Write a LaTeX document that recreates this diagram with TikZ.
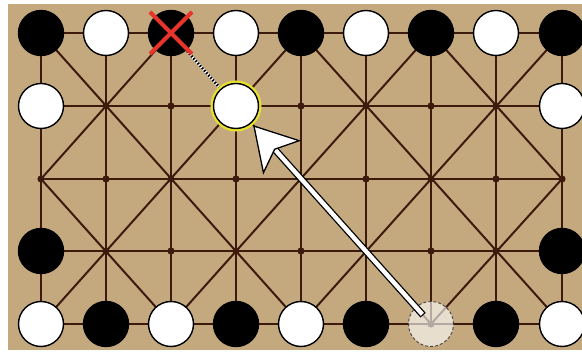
\documentclass[tikz,border=0pt]{standalone}
\usetikzlibrary{calc}
\definecolor{board}{HTML}{C4A97F}
\definecolor{lineb}{HTML}{3D1A0C}
\definecolor{xred}{HTML}{E8352B}
\definecolor{hlyellow}{HTML}{E6E22E}
\definecolor{ghostline}{HTML}{4A4040}
\begin{document}
\begin{tikzpicture}[x=1pt,y=-1pt,
  gridline/.style={draw=lineb,line width=2pt},
  stonebase/.style={circle,minimum size=45pt,inner sep=0pt,line width=1.4pt,draw=black},
  stoneblack/.style={stonebase,fill=black},
  stonewhite/.style={stonebase,fill=white},
  hlstone/.style={stonebase,fill=white,
     preaction={draw=hlyellow,line width=6pt}},
  ghoststone/.style={circle,minimum size=45pt,inner sep=0pt,fill=white,fill opacity=0.62,
     draw=ghostline,draw opacity=1,line width=0.9pt,dash pattern=on 3pt off 2pt},
  xmark/.style={draw=xred,line width=4pt},
]
\useasboundingbox (0,0) rectangle (582,352);
\fill[white] (0,0) rectangle (582,352);
\fill[board] (8,4) rectangle (582,350);
% grid points
\foreach \x [count=\i from 0] in {41,106,171,236,301,366,431,496,562}{
  \foreach \y [count=\j from 0] in {33,106,179,251,324}{
    \coordinate (p-\i-\j) at (\x,\y);
  }
}
% orthogonal lines
\foreach \j in {0,...,4}{\draw[gridline] (p-0-\j) -- (p-8-\j);}
\foreach \i in {0,...,8}{\draw[gridline] (p-\i-0) -- (p-\i-4);}
% diagonals
\foreach \a/\b in {0-0/4-4,2-0/6-4,4-0/8-4,0-2/2-4,6-0/8-2,
                   4-0/0-4,6-0/2-4,8-0/4-4,2-0/0-2,8-2/6-4}{
  \draw[gridline] (p-\a) -- (p-\b);
}
% dots
\foreach \i in {0,...,8}{
  \foreach \j in {0,...,4}{
    \fill[lineb] (p-\i-\j) circle[radius=3.6];
  }
}
% stones
\node[stoneblack] (s-0-0) at (p-0-0) {};
\node[stonewhite] (s-1-0) at (p-1-0) {};
\node[stoneblack] (s-2-0) at (p-2-0) {};
\node[stonewhite] (s-3-0) at (p-3-0) {};
\node[stoneblack] (s-4-0) at (p-4-0) {};
\node[stonewhite] (s-5-0) at (p-5-0) {};
\node[stoneblack] (s-6-0) at (p-6-0) {};
\node[stonewhite] (s-7-0) at (p-7-0) {};
\node[stoneblack] (s-8-0) at (p-8-0) {};
\node[stonewhite] (s-0-1) at (p-0-1) {};
\node[stonewhite] (s-8-1) at (p-8-1) {};
\node[stoneblack] (s-0-3) at (p-0-3) {};
\node[stoneblack] (s-8-3) at (p-8-3) {};
\node[stonewhite] (s-0-4) at (p-0-4) {};
\node[stoneblack] (s-1-4) at (p-1-4) {};
\node[stonewhite] (s-2-4) at (p-2-4) {};
\node[stoneblack] (s-3-4) at (p-3-4) {};
\node[stonewhite] (s-4-4) at (p-4-4) {};
\node[stoneblack] (s-5-4) at (p-5-4) {};
\node[ghoststone] (gh) at (p-6-4) {};
\node[stoneblack] (s-7-4) at (p-7-4) {};
\node[stonewhite] (s-8-4) at (p-8-4) {};
% dotted capture line
\draw[white,line width=2.6pt,shorten <=1pt] (s-2-0) -- (p-3-1);
\draw[black,line width=2.6pt,dash pattern=on 1.6pt off 1.6pt,shorten <=1pt] (s-2-0) -- (p-3-1);
% highlighted stone
\node[hlstone] (hl) at (p-3-1) {};
% red cross
\draw[xmark] ($(p-2-0)+(-21,-21)$) -- ($(p-2-0)+(21,21)$);
\draw[xmark] ($(p-2-0)+(21,-21)$) -- ($(p-2-0)+(-21,21)$);
% arrow
\coordinate (tip) at ($(p-3-1)!27pt!(p-6-4)$);
\coordinate (abase) at ($(tip)!41pt!(p-6-4)$);
\coordinate (ainset) at ($(tip)!31pt!(p-6-4)$);
\coordinate (barbL) at ($(abase)!24pt!90:(p-6-4)$);
\coordinate (barbR) at ($(abase)!24pt!-90:(p-6-4)$);
\coordinate (tail) at ($(p-6-4)!13pt!(p-3-1)$);
\coordinate (tailb) at ($(p-6-4)!11.8pt!(p-3-1)$);
\draw[black,line width=7pt] (tailb) -- (ainset);
\draw[white,line width=4.4pt] (tail) -- (ainset);
\draw[fill=white,draw=black,line width=1.3pt,line join=miter]
  (tip) -- (barbL) -- (ainset) -- (barbR) -- cycle;
\end{tikzpicture}
\end{document}
